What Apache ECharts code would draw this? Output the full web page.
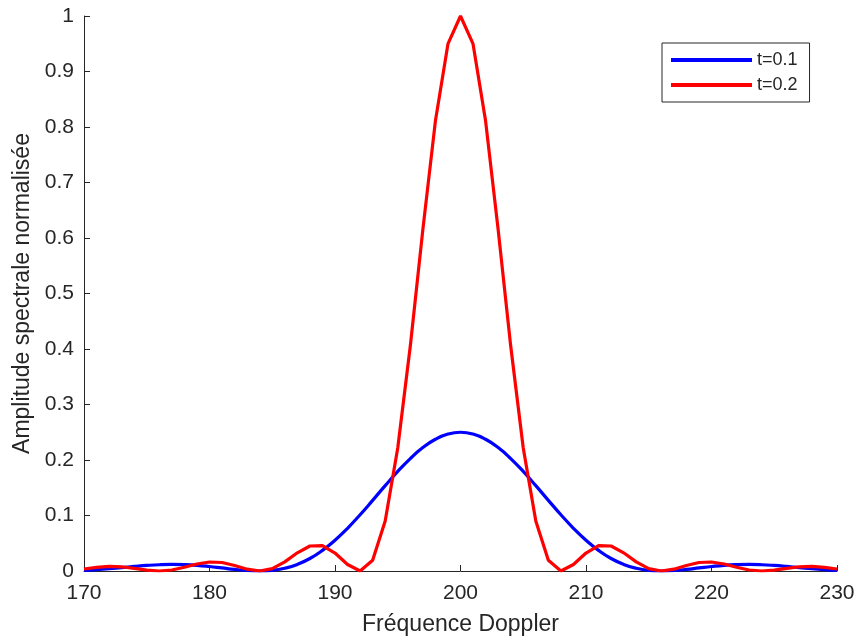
<!DOCTYPE html>
<html>
<head>
<meta charset="utf-8">
<script src="https://cdn.jsdelivr.net/npm/echarts@6/dist/echarts.min.js"></script>
<style>
html,body{margin:0;padding:0;background:#fff;}
#chart{width:858px;height:641px;}
</style>
</head>
<body>
<div id="chart"></div>
<script>
const freq = [170,171,172,173,174,175,176,177,178,179,180,181,182,183,184,185,186,187,188,189,190,191,192,193,194,195,196,197,198,199,200,201,202,203,204,205,206,207,208,209,210,211,212,213,214,215,216,217,218,219,220,221,222,223,224,225,226,227,228,229,230];
const seriesNames = ['t=0.1', 't=0.2'];
const blueValues = [0.0011,0.0024,0.0041,0.0062,0.0082,0.0100,0.0113,0.0118,0.0114,0.0102,0.0081,0.0055,0.0029,0.0009,0,0.0011,0.0049,0.0119,0.0225,0.0371,0.0554,0.0770,0.1013,0.1273,0.1538,0.1794,0.2026,0.2224,0.2374,0.2468,0.25,
  0.2468,0.2374,0.2224,0.2026,0.1794,0.1538,0.1273,0.1013,0.0770,0.0554,0.0371,0.0225,0.0119,0.0049,0.0011,0,0.0009,0.0029,0.0055,0.0081,0.0102,0.0114,0.0118,0.0113,0.0100,0.0082,0.0062,0.0041,0.0024,0.0011];
const redValues = [0.0036,0.0066,0.0083,0.0076,0.0048,0.0015,0,0.0018,0.0067,0.0126,0.0162,0.0153,0.0100,0.0033,0,0.0042,0.0165,0.0328,0.0450,0.0457,0.0324,0.0117,0,0.0194,0.0901,0.2215,0.4053,0.6150,0.8106,0.9497,1,
  0.9497,0.8106,0.6150,0.4053,0.2215,0.0901,0.0194,0,0.0117,0.0324,0.0457,0.0450,0.0328,0.0165,0.0042,0,0.0033,0.0100,0.0153,0.0162,0.0126,0.0067,0.0018,0,0.0015,0.0048,0.0076,0.0083,0.0066,0.0036];
const xTicks = [170,180,190,200,210,220,230];
const yTicks = [0,0.1,0.2,0.3,0.4,0.5,0.6,0.7,0.8,0.9,1];

const chart = echarts.init(document.getElementById('chart'), null, {renderer:'canvas'});
const textColor = '#262626';
const font = 'Arial, "Liberation Sans", sans-serif';
chart.setOption({
  animation: false,
  backgroundColor: '#fff',
  grid: {left: 84, right: 21, top: 16, bottom: 69, containLabel: false},
  legend: {
    orient: 'vertical',
    left: 662, top: 43,
    padding: [8, 12, 8, 9],
    itemGap: 7,
    itemWidth: 81, itemHeight: 4,
    icon: 'rect',
    borderColor: '#262626', borderWidth: 1,
    backgroundColor: '#fff',
    textStyle: {fontFamily: font, fontSize: 18, color: textColor},
    data: seriesNames
  },
  xAxis: {
    type: 'value', min: xTicks[0], max: xTicks[xTicks.length-1], interval: 10,
    name: 'Fréquence Doppler', nameLocation: 'middle', nameGap: 42,
    nameTextStyle: {fontFamily: font, fontSize: 23, color: textColor},
    axisLine: {show: true, lineStyle: {color: textColor, width: 1}},
    axisTick: {show: true, inside: true, length: 6, lineStyle: {color: textColor}},
    axisLabel: {fontFamily: font, fontSize: 21, color: textColor, margin: 12},
    splitLine: {show: false}
  },
  yAxis: {
    type: 'value', min: yTicks[0], max: yTicks[yTicks.length-1], interval: 0.1,
    name: 'Amplitude spectrale normalisée', nameLocation: 'middle', nameGap: 50,
    nameTextStyle: {fontFamily: font, fontSize: 23, color: textColor},
    axisLine: {show: true, lineStyle: {color: textColor, width: 1}},
    axisTick: {show: true, inside: true, length: 6, lineStyle: {color: textColor}},
    axisLabel: {fontFamily: font, fontSize: 21, color: textColor, margin: 10,
      formatter: v => String(Math.round(v*10)/10)},
    splitLine: {show: false}
  },
  series: [
    {name: seriesNames[0], type: 'line', showSymbol: false, symbol: 'none', smooth: 0.5,
     lineStyle: {color: '#0000FF', width: 3.2}, itemStyle: {color: '#0000FF'},
     data: freq.map((f,i)=>[f, blueValues[i]])},
    {name: seriesNames[1], type: 'line', showSymbol: false, symbol: 'none',
     lineStyle: {color: '#FF0000', width: 3.2}, itemStyle: {color: '#FF0000'},
     data: freq.map((f,i)=>[f, redValues[i]])}
  ]
});
</script>
</body>
</html>
